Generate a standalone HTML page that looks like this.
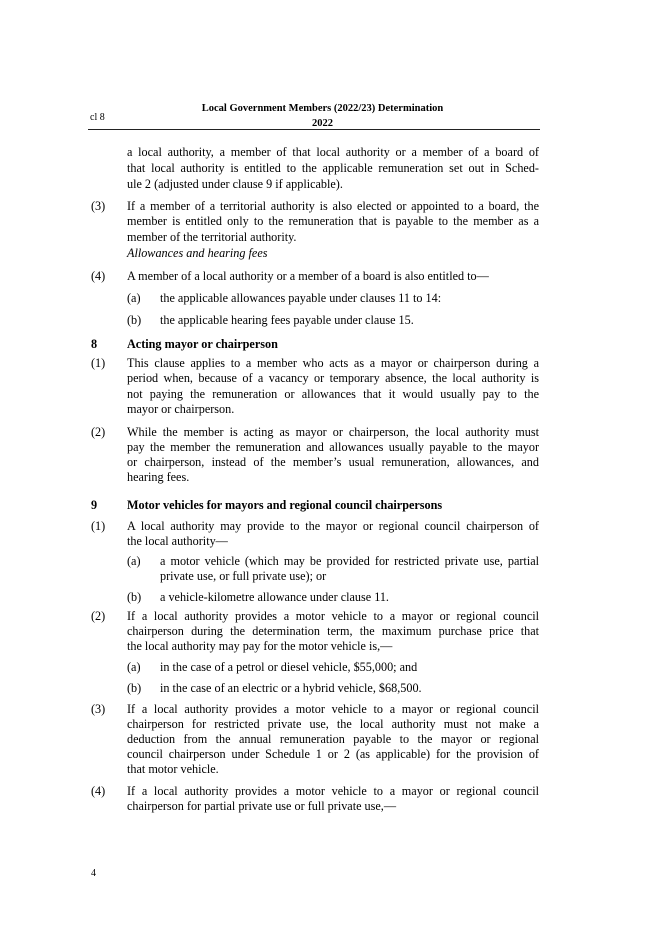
<!DOCTYPE html>
<html><head><meta charset="utf-8"><style>
body{margin:0;background:#fff;}
#p{position:relative;width:645px;height:935px;background:#fff;font-family:"Liberation Serif",serif;color:#000;font-size:12.2px;}
.l{position:absolute;height:16px;line-height:16px;white-space:nowrap;}
.j{text-align:justify;text-align-last:justify;white-space:normal;overflow:hidden;}
.n{position:absolute;left:91px;height:16px;line-height:16px;}
.b{font-weight:bold;}
.i{font-style:italic;}
</style></head><body><div id="p">
<div class="l b" style="left:0;width:645px;text-align:center;top:102px;font-size:10.5px;line-height:14px">Local Government Members (2022/23) Determination</div>
<div class="l b" style="left:0;width:645px;text-align:center;top:117px;font-size:10.5px;line-height:14px">2022</div>
<div class="l" style="left:90px;top:111px;font-size:10px;line-height:14px">cl 8</div>
<div style="position:absolute;left:88px;width:452px;top:129px;height:1px;background:#222"></div>

<div class="l j" style="left:127px;width:412px;top:144px">a local authority, a member of that local authority or a member of a board of</div>
<div class="l j" style="left:127px;width:412px;top:160px">that local authority is entitled to the applicable remuneration set out in Sched-</div>
<div class="l" style="left:127px;top:176px">ule 2 (adjusted under clause 9 if applicable).</div>

<div class="n" style="top:198px">(3)</div>
<div class="l j" style="left:127px;width:412px;top:198px">If a member of a territorial authority is also elected or appointed to a board, the</div>
<div class="l j" style="left:127px;width:412px;top:213px">member is entitled only to the remuneration that is payable to the member as a</div>
<div class="l" style="left:127px;top:229px">member of the territorial authority.</div>
<div class="l i" style="left:127px;top:245px">Allowances and hearing fees</div>

<div class="n" style="top:268px">(4)</div>
<div class="l" style="left:127px;top:268px">A member of a local authority or a member of a board is also entitled to—</div>
<div class="l" style="left:127px;top:290px">(a)</div><div class="l" style="left:160px;top:290px">the applicable allowances payable under clauses 11 to 14:</div>
<div class="l" style="left:127px;top:312px">(b)</div><div class="l" style="left:160px;top:312px">the applicable hearing fees payable under clause 15.</div>

<div class="n b" style="top:336px">8</div>
<div class="l b" style="left:127px;top:336px">Acting mayor or chairperson</div>
<div class="n" style="top:355px">(1)</div>
<div class="l j" style="left:127px;width:412px;top:355px">This clause applies to a member who acts as a mayor or chairperson during a</div>
<div class="l j" style="left:127px;width:412px;top:370px">period when, because of a vacancy or temporary absence, the local authority is</div>
<div class="l j" style="left:127px;width:412px;top:386px">not paying the remuneration or allowances that it would usually pay to the</div>
<div class="l" style="left:127px;top:401px">mayor or chairperson.</div>
<div class="n" style="top:424px">(2)</div>
<div class="l j" style="left:127px;width:412px;top:424px">While the member is acting as mayor or chairperson, the local authority must</div>
<div class="l j" style="left:127px;width:412px;top:439px">pay the member the remuneration and allowances usually payable to the mayor</div>
<div class="l j" style="left:127px;width:412px;top:454px">or chairperson, instead of the member’s usual remuneration, allowances, and</div>
<div class="l" style="left:127px;top:469px">hearing fees.</div>

<div class="n b" style="top:497px">9</div>
<div class="l b" style="left:127px;top:497px">Motor vehicles for mayors and regional council chairpersons</div>
<div class="n" style="top:518px">(1)</div>
<div class="l j" style="left:127px;width:412px;top:518px">A local authority may provide to the mayor or regional council chairperson of</div>
<div class="l" style="left:127px;top:533px">the local authority—</div>
<div class="l" style="left:127px;top:553px">(a)</div><div class="l j" style="left:160px;width:379px;top:553px">a motor vehicle (which may be provided for restricted private use, partial</div>
<div class="l" style="left:160px;top:568px">private use, or full private use); or</div>
<div class="l" style="left:127px;top:589px">(b)</div><div class="l" style="left:160px;top:589px">a vehicle-kilometre allowance under clause 11.</div>
<div class="n" style="top:608px">(2)</div>
<div class="l j" style="left:127px;width:412px;top:608px">If a local authority provides a motor vehicle to a mayor or regional council</div>
<div class="l j" style="left:127px;width:412px;top:623px">chairperson during the determination term, the maximum purchase price that</div>
<div class="l" style="left:127px;top:638px">the local authority may pay for the motor vehicle is,—</div>
<div class="l" style="left:127px;top:659px">(a)</div><div class="l" style="left:160px;top:659px">in the case of a petrol or diesel vehicle, $55,000; and</div>
<div class="l" style="left:127px;top:680px">(b)</div><div class="l" style="left:160px;top:680px">in the case of an electric or a hybrid vehicle, $68,500.</div>
<div class="n" style="top:701px">(3)</div>
<div class="l j" style="left:127px;width:412px;top:701px">If a local authority provides a motor vehicle to a mayor or regional council</div>
<div class="l j" style="left:127px;width:412px;top:716px">chairperson for restricted private use, the local authority must not make a</div>
<div class="l j" style="left:127px;width:412px;top:731px">deduction from the annual remuneration payable to the mayor or regional</div>
<div class="l j" style="left:127px;width:412px;top:746px">council chairperson under Schedule 1 or 2 (as applicable) for the provision of</div>
<div class="l" style="left:127px;top:761px">that motor vehicle.</div>
<div class="n" style="top:783px">(4)</div>
<div class="l j" style="left:127px;width:412px;top:783px">If a local authority provides a motor vehicle to a mayor or regional council</div>
<div class="l" style="left:127px;top:798px">chairperson for partial private use or full private use,—</div>

<div class="l" style="left:91px;top:866px;font-size:10px">4</div>
</div></body></html>
